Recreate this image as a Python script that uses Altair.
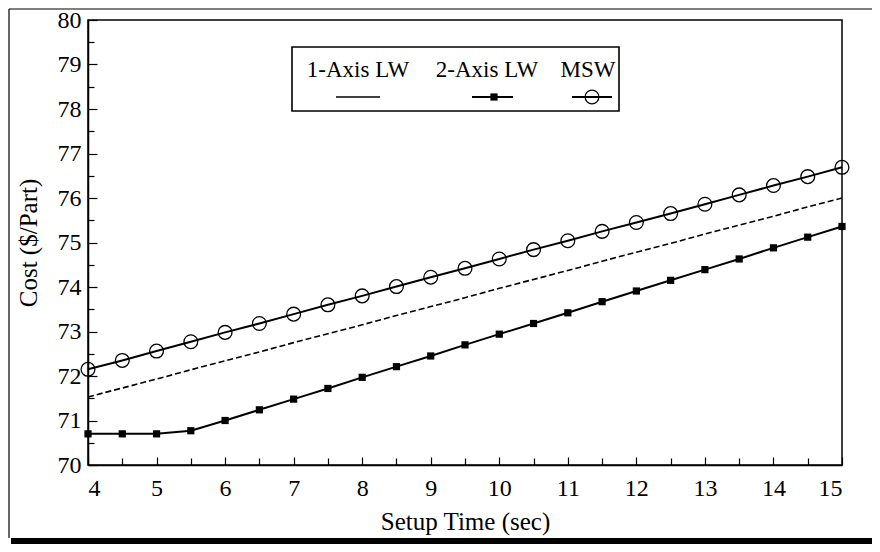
import altair as alt
import pandas as pd

# ---- data ----
setup_time = [4, 4.5, 5, 5.5, 6, 6.5, 7, 7.5, 8, 8.5, 9, 9.5, 10, 10.5, 11, 11.5,
              12, 12.5, 13, 13.5, 14, 14.5, 15]
one_axis_lw = [71.53, 71.73, 71.93, 72.14, 72.34, 72.54, 72.75, 72.95, 73.15, 73.36,
               73.56, 73.76, 73.97, 74.17, 74.37, 74.58, 74.78, 74.98, 75.19, 75.39,
               75.59, 75.80, 76.00]
two_axis_lw = [70.70, 70.70, 70.70, 70.77, 71.00, 71.24, 71.48, 71.72, 71.97, 72.21,
               72.45, 72.70, 72.94, 73.18, 73.42, 73.67, 73.91, 74.15, 74.39, 74.63,
               74.88, 75.12, 75.36]
msw = [72.15, 72.35, 72.56, 72.77, 72.98, 73.18, 73.39, 73.60, 73.80, 74.01, 74.22,
       74.42, 74.63, 74.84, 75.04, 75.25, 75.45, 75.65, 75.86, 76.07, 76.28, 76.48,
       76.69]
series_names = ["1-Axis LW", "2-Axis LW", "MSW"]

x_major = [4, 5, 6, 7, 8, 9, 10, 11, 12, 13, 14, 15]
x_minor = [4.5, 5.5, 6.5, 7.5, 8.5, 9.5, 10.5, 11.5, 12.5, 13.5, 14.5]
y_major = [70, 71, 72, 73, 74, 75, 76, 77, 78, 79, 80]
y_minor = [70.5, 71.5, 72.5, 73.5, 74.5, 75.5, 76.5, 77.5, 78.5, 79.5]

df = pd.DataFrame({"t": setup_time, "one": one_axis_lw, "two": two_axis_lw, "msw": msw})

FONT = "Liberation Serif, Times New Roman, DejaVu Serif, serif"
W, H = 754, 445

xs = alt.Scale(domain=[4, 15], nice=False, zero=False)
ys = alt.Scale(domain=[70, 80], nice=False, zero=False)


def tick_axis(vals, size, orient):
    return alt.Axis(values=vals, labels=False, domain=False, grid=False, ticks=True,
                    tickSize=size, offset=-size, tickColor="black", tickWidth=1.2,
                    title=None, orient=orient)


# axis with labels and titles
axis_layer = alt.Chart(df).mark_point(opacity=0).encode(
    x=alt.X("t:Q", scale=xs, axis=alt.Axis(
        values=x_major, ticks=False, grid=False, domain=True, domainColor="black",
        domainWidth=1.5, labelFont=FONT, labelFontSize=24, labelColor="black",
        labelPadding=11, title="Setup Time (sec)", titleFont=FONT, titleFontSize=25,
        titleFontWeight="normal", titleColor="black", titlePadding=9, orient="bottom")),
    y=alt.Y("msw:Q", scale=ys, axis=alt.Axis(
        values=y_major, ticks=False, grid=False, domain=True, domainColor="black",
        domainWidth=1.5, labelFont=FONT, labelFontSize=24, labelColor="black",
        labelPadding=7, title="Cost ($/Part)", titleFont=FONT, titleFontSize=25,
        titleFontWeight="normal", titleColor="black", titlePadding=16, orient="left")),
)

major_ticks = alt.Chart(df).mark_point(opacity=0).encode(
    x=alt.X("t:Q", scale=xs, axis=tick_axis(x_major, 8, "bottom")),
    y=alt.Y("msw:Q", scale=ys, axis=tick_axis(y_major, 9, "left")),
)
minor_ticks = alt.Chart(df).mark_point(opacity=0).encode(
    x=alt.X("t:Q", scale=xs, axis=tick_axis(x_minor, 7, "bottom")),
    y=alt.Y("msw:Q", scale=ys, axis=tick_axis(y_minor, 6, "left")),
)

X = alt.X("t:Q", scale=xs, axis=None)

one_line = alt.Chart(df).mark_line(color="black", strokeWidth=1.6, strokeDash=[6, 3]).encode(
    x=X, y=alt.Y("one:Q", scale=ys, axis=None))
two_line = alt.Chart(df).mark_line(color="black", strokeWidth=2).encode(
    x=X, y=alt.Y("two:Q", scale=ys, axis=None))
two_pts = alt.Chart(df).mark_square(color="black", size=52, opacity=1).encode(
    x=X, y=alt.Y("two:Q", scale=ys, axis=None))
msw_line = alt.Chart(df).mark_line(color="black", strokeWidth=2).encode(
    x=X, y=alt.Y("msw:Q", scale=ys, axis=None))
msw_pts = alt.Chart(df).mark_point(shape="circle", filled=False, color="black", size=190,
                                   strokeWidth=1.3, opacity=1).encode(
    x=X, y=alt.Y("msw:Q", scale=ys, axis=None))

# ---- legend (drawn in the top of the plot area) ----
one_row = alt.Data(values=[{"k": 0}])
leg_box = alt.Chart(one_row).mark_rect(fill="white", stroke="black", strokeWidth=1.6).encode(
    x=alt.value(204), x2=alt.value(531), y=alt.value(27), y2=alt.value(91))
leg_text_x = [270, 399, 500]
leg_texts = [
    alt.Chart(one_row).mark_text(text=name, font=FONT, fontSize=23, color="black",
                                 align="center", baseline="alphabetic").encode(
        x=alt.value(px), y=alt.value(57))
    for name, px in zip(series_names, leg_text_x)
]
SY = 77
leg_one = alt.Chart(one_row).mark_rule(color="black", strokeWidth=1.6).encode(
    x=alt.value(248), x2=alt.value(292), y=alt.value(SY))
leg_two = alt.Chart(one_row).mark_rule(color="black", strokeWidth=2).encode(
    x=alt.value(384), x2=alt.value(425), y=alt.value(SY))
leg_two_sym = alt.Chart(one_row).mark_square(color="black", size=52, opacity=1).encode(
    x=alt.value(406), y=alt.value(SY))
leg_msw = alt.Chart(one_row).mark_rule(color="black", strokeWidth=2).encode(
    x=alt.value(484), x2=alt.value(524), y=alt.value(SY))
leg_msw_sym = alt.Chart(one_row).mark_point(shape="circle", filled=False, color="black",
                                            size=190, strokeWidth=1.3, opacity=1).encode(
    x=alt.value(504), y=alt.value(SY))

# ---- outer page frame ----
frame_top = alt.Chart(one_row).mark_rule(color="black", strokeWidth=1.2).encode(
    x=alt.value(-79), x2=alt.value(784), y=alt.value(-11))
frame_left = alt.Chart(one_row).mark_rule(color="black", strokeWidth=1.2).encode(
    x=alt.value(-79), y=alt.value(-11), y2=alt.value(518))
frame_bottom = alt.Chart(one_row).mark_rect(color="black").encode(
    x=alt.value(-77), x2=alt.value(784), y=alt.value(518), y2=alt.value(524))

chart = alt.layer(
    axis_layer, major_ticks, minor_ticks,
    one_line, two_line, two_pts, msw_line, msw_pts,
    leg_box, *leg_texts, leg_one, leg_two, leg_two_sym, leg_msw, leg_msw_sym,
    frame_top, frame_left, frame_bottom,
).resolve_axis(x="independent", y="independent").properties(
    width=W, height=H,
    autosize=alt.AutoSizeParams(type="none"),
    padding={"left": 80, "top": 12, "right": 30, "bottom": 79},
    background="white",
).configure_view(stroke="black", strokeWidth=1.5)

chart.save("out.html", embed_options={"renderer": "svg", "actions": False})
